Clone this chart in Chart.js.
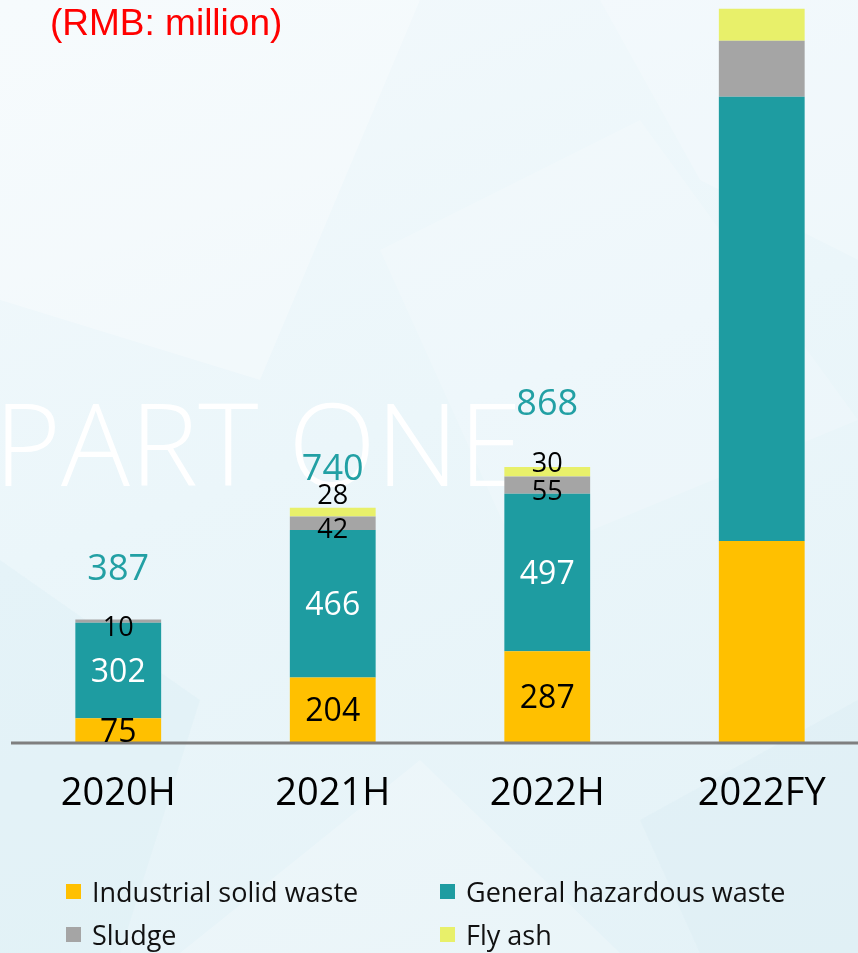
<!DOCTYPE html>
<html>
<head>
<meta charset="utf-8">
<script src="https://cdn.jsdelivr.net/npm/chart.js@4"></script>
<style>
  html, body { margin: 0; padding: 0; width: 858px; height: 953px; overflow: hidden; }
  body {
    position: relative;
    background: linear-gradient(160deg, #f3f9fc 0%, #ebf6fa 45%, #e4f2f7 100%);
    font-family: "Open Sans", "Noto Sans", sans-serif;
  }
  #bg { position: absolute; left: 0; top: 0; }
  #chart { position: absolute; left: 0; top: 0; }
  #title {
    position: absolute; left: 50px; top: 0px;
    font-family: "Liberation Sans", Arial, sans-serif;
    font-size: 37px; color: #ff0000; line-height: 46px;
  }
  #legend { position: absolute; left: 66px; top: 873px; width: 790px; }
  .item {
    position: absolute; display: flex; align-items: center;
    font-size: 27px; color: #111; white-space: nowrap;
  }
  .item span.box { width: 15px; height: 15px; margin-right: 11px; display: inline-block; }
</style>
</head>
<body>
<svg id="bg" width="858" height="953">
  <polygon points="0,0 420,0 260,380 0,300" fill="#ffffff" opacity="0.3"/>
  <polygon points="600,0 858,0 858,260 700,180" fill="#ffffff" opacity="0.22"/>
  <polygon points="380,250 640,120 858,420 520,560" fill="#ffffff" opacity="0.18"/>
  <polygon points="0,560 200,700 120,953 0,953" fill="#d9edf4" opacity="0.35"/>
  <polygon points="180,953 420,760 620,953" fill="#ffffff" opacity="0.22"/>
  <polygon points="640,820 858,700 858,953 700,953" fill="#d6ecf3" opacity="0.3"/>
</svg>
<canvas id="chart" width="870" height="953"></canvas>
<div id="title">(RMB: million)</div>
<div id="legend"></div>
<script>
const categories = ['2020H', '2021H', '2022H', '2022FY'];
const industrialSolid = [75, 204, 287, 635];
const generalHazardous = [302, 466, 497, 1403];
const sludge = [10, 42, 55, 177];
const flyAsh = [0, 28, 30, 101];
const totals = [387, 740, 868, null];
const labelled = [true, true, true, false];

const seriesNames = ['Industrial solid waste', 'General hazardous waste', 'Sludge', 'Fly ash'];
const seriesColors = ['#ffc000', '#1e9ca1', '#a5a5a5', '#e8f06a'];

// style tweaks for the small labels (lift above the bar top, px)
const totalLift = [52, 41, 65];
const flyLift = [0, 13, 5];

const FONT = '"Open Sans", "Noto Sans", sans-serif';

function drawNum(ctx, text, x, cy, size, color, weight) {
  ctx.font = (weight || 'normal') + ' ' + size + 'px ' + FONT;
  ctx.fillStyle = color;
  ctx.textAlign = 'center';
  ctx.textBaseline = 'alphabetic';
  ctx.fillText(text, x, cy + size * 0.357);
}

const labelPlugin = {
  id: 'wasteLabels',
  beforeDatasetsDraw(chart) {
    const ctx = chart.ctx;
    ctx.save();
    ctx.font = '300 114px ' + FONT;
    ctx.fillStyle = '#ffffff';
    ctx.textAlign = 'left';
    ctx.textBaseline = 'alphabetic';
    const w = ctx.measureText('PART ONE').width;
    ctx.translate(-6, 486);
    ctx.scale(528 / w, 1);
    ctx.fillText('PART ONE', 0, 0);
    ctx.restore();
  },
  afterDatasetsDraw(chart) {
    const ctx = chart.ctx;
    const xs = chart.scales.x, ys = chart.scales.y;
    ctx.save();
    // axis line
    const y0 = ys.getPixelForValue(0) + 1;
    ctx.strokeStyle = '#7f7f7f';
    ctx.lineWidth = 3;
    ctx.beginPath();
    ctx.moveTo(11, y0);
    ctx.lineTo(858, y0);
    ctx.stroke();

    chart.data.datasets.forEach((ds, di) => {
      const meta = chart.getDatasetMeta(di);
      meta.data.forEach((bar, i) => {
        const v = ds.data[i];
        if (!labelled[i] || !v) return;
        const p = bar.getProps(['x', 'y', 'base'], true);
        const mid = (p.y + p.base) / 2;
        if (di === 0) drawNum(ctx, String(v), p.x, mid, 32, '#000000');
        else if (di === 1) drawNum(ctx, String(v), p.x, mid, 32, '#ffffff');
        else if (di === 2) drawNum(ctx, String(v), p.x, mid + 5, 27, '#000000');
        else drawNum(ctx, String(v), p.x, p.y - flyLift[i], 27, '#000000');
      });
    });

    // totals
    totals.forEach((t, i) => {
      if (t == null) return;
      const top = ys.getPixelForValue(industrialSolid[i] + generalHazardous[i] + sludge[i] + flyAsh[i]);
      drawNum(ctx, String(t), xs.getPixelForValue(i), top - totalLift[i], 36, '#22a0a4');
    });

    // category labels
    categories.forEach((c, i) => {
      ctx.font = '38px ' + FONT;
      ctx.fillStyle = '#000000';
      ctx.textAlign = 'center';
      ctx.textBaseline = 'alphabetic';
      ctx.fillText(c, xs.getPixelForValue(i), 805);
    });
    ctx.restore();
  }
};

const seriesData = [industrialSolid, generalHazardous, sludge, flyAsh];

new Chart(document.getElementById('chart').getContext('2d'), {
  type: 'bar',
  data: {
    labels: categories,
    datasets: seriesData.map((d, k) => ({
      label: seriesNames[k],
      data: d,
      backgroundColor: seriesColors[k],
      borderWidth: 0,
      barPercentage: 0.4,
      categoryPercentage: 1.0
    }))
  },
  options: {
    responsive: false,
    animation: false,
    layout: { padding: { left: 11, right: 1, top: 0, bottom: 211 } },
    scales: {
      x: { stacked: true, display: false },
      y: { stacked: true, display: false, min: 0, max: 2344 }
    },
    plugins: {
      legend: { display: false },
      tooltip: { enabled: false }
    }
  },
  plugins: [labelPlugin]
});

// legend, two columns
const legend = document.getElementById('legend');
const legendPos = [[0, 0], [374, 0], [0, 43], [374, 43]];
seriesNames.forEach((name, k) => {
  const el = document.createElement('div');
  el.className = 'item';
  el.style.left = legendPos[k][0] + 'px';
  el.style.top = legendPos[k][1] + 'px';
  el.innerHTML = '<span class="box" style="background:' + seriesColors[k] + '"></span>' + name;
  legend.appendChild(el);
});
</script>
</body>
</html>
